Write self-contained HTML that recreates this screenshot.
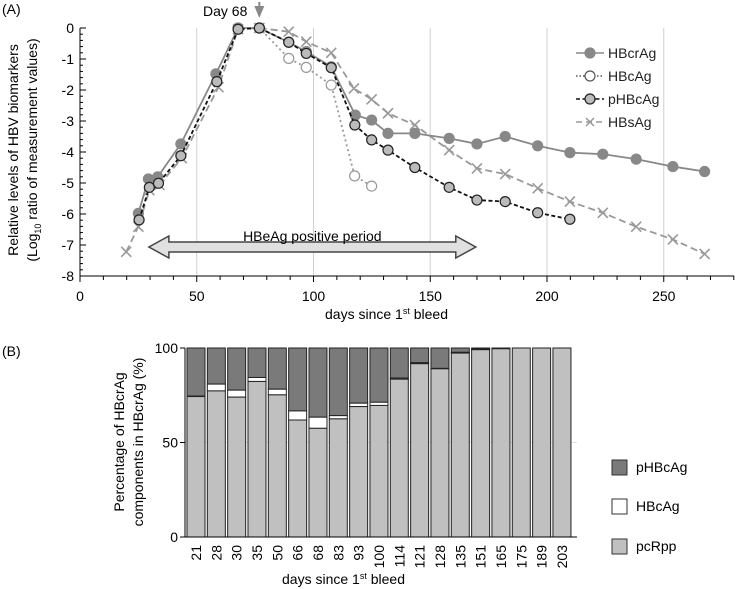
<!DOCTYPE html>
<html><head><meta charset="utf-8"><style>
html,body{margin:0;padding:0;background:#fff;}
svg{display:block;font-family:"Liberation Sans",Arial,sans-serif;}
</style></head><body>
<svg id="c" width="735" height="589" viewBox="0 0 735 589"></svg>
<script>
// ---------- Panel A data ----------
const crDays = [25,29.3,33.3,43.2,58.2,67.7,76.8,89.4,96.9,107.6,117.9,124.9,131.9,143.4,158.1,170,182.1,196,209.8,223.9,238.2,253.9,267.5];
const crVals = [-5.98,-4.87,-4.8,-3.74,-1.48,0,0,-0.46,-0.76,-1.25,-2.81,-2.97,-3.4,-3.4,-3.56,-3.74,-3.5,-3.8,-4.02,-4.07,-4.23,-4.47,-4.63];
const cDays = [67.7,76.8,89.4,96.9,107.6,117.6,124.9];
const cVals = [0,0,-0.98,-1.27,-1.84,-4.77,-5.1];
const pDays = [25.3,29.7,33.6,43.2,58.6,67.7,76.8,89.4,96.9,107.6,117.7,124.9,131.9,143.4,158.1,170,182.1,196,209.8];
const pVals = [-6.19,-5.14,-5.01,-4.12,-1.73,-0.04,0,-0.46,-0.82,-1.28,-3.13,-3.61,-3.94,-4.5,-5.14,-5.55,-5.6,-5.96,-6.17];
const sDays = [19.8,25,29.7,34,43.6,59.3,67.7,76.8,89.4,96.9,107.6,117.3,124.9,131.9,143.4,158.1,170,182.1,196,209.8,223.9,238.2,253.9,267.5];
const sVals = [-7.22,-6.41,-5.23,-5.06,-4.2,-1.91,-0.04,0,-0.12,-0.44,-0.8,-1.95,-2.3,-2.75,-3.13,-3.94,-4.53,-4.71,-5.17,-5.6,-5.96,-6.41,-6.82,-7.29];
const xTicksA = [0,50,100,150,200,250];
const yTicksA = [0,-1,-2,-3,-4,-5,-6,-7,-8];
// ---------- Panel B data ----------
const bCats = ["21","28","30","35","50","66","68","83","93","100","114","121","128","135","151","165","175","189","203"];
const bPc = [74.3,77.3,74,82.3,75.2,61.9,57.5,62.5,69,69.6,83.5,91.7,89,97.3,99.1,99.6,100,100,100];
const bHBc = [0.3,3.6,3.7,2.1,3,4.8,5.9,1.7,1.8,1.7,0.6,0.5,0.2,0.4,0.4,0.2,0,0,0];
const yTicksB = [0,50,100];

const svg = document.getElementById('c');
const NS = 'http://www.w3.org/2000/svg';
function el(tag, attrs, parent){const e=document.createElementNS(NS,tag);for(const k in attrs)e.setAttribute(k,attrs[k]);(parent||svg).appendChild(e);return e;}
function txt(s, attrs, parent){const e=el('text',attrs,parent);e.textContent=s;return e;}

const xA = d => 80 + d*2.335;
const yA = v => 28 - v*31;

let t;
t=txt('(A)',{x:2,y:14,'font-size':14});
t=txt('(B)',{x:2,y:356,'font-size':14});

xTicksA.forEach(d=>{ if(d>0){const g=el('line',{x1:xA(d),x2:xA(d),y1:yA(0),y2:yA(-8),stroke:'#d0d0d0','stroke-width':1});}});

let a=el('line',{x1:80,x2:80,y1:yA(0),y2:yA(-8),stroke:'#000','stroke-width':1});
a=el('line',{x1:80,x2:734,y1:yA(-8),y2:yA(-8),stroke:'#000','stroke-width':1});
for(let v=0;v>=-8;v-=0.2){const y=yA(v);const maj=Math.abs(v-Math.round(v))<1e-6;el('line',{x1:80,x2:maj?86:83,y1:y,y2:y,stroke:'#000','stroke-width':1});}
yTicksA.forEach(v=>{const e=txt(String(v),{x:74,y:yA(v)+5,'font-size':14,'text-anchor':'end'});});
for(let d=0;d<=280;d+=10){const x=xA(d);el('line',{x1:x,x2:x,y1:yA(-8),y2:yA(-8)+(d%50===0?6:4),stroke:'#000','stroke-width':1});}
xTicksA.forEach(d=>{const e=txt(String(d),{x:xA(d),y:301,'font-size':14,'text-anchor':'middle'});});
t=txt('days since 1',{x:325,y:319,'font-size':14});
const sup=el('tspan',{'font-size':9,dy:-5});sup.textContent='st';t.appendChild(sup);
const ts2=el('tspan',{dy:5});ts2.textContent=' bleed';t.appendChild(ts2);
t=txt('Relative levels of HBV biomarkers',{transform:'translate(18,150) rotate(-90)','font-size':14,'text-anchor':'middle'});
t=txt('(Log',{transform:'translate(37,150) rotate(-90)','font-size':14,'text-anchor':'middle'});
const s1=el('tspan',{'font-size':9,dy:4});s1.textContent='10';t.appendChild(s1);
const s2=el('tspan',{dy:-4});s2.textContent=' ratio of measurement values)';t.appendChild(s2);


const ax1=xA(29.5), ax2=xA(169.5), ay=247;
let arr=el('path',{d:`M${ax1},${ay} L${ax1+20},${ay-11} L${ax1+20},${ay-5} L${ax2-20},${ay-5} L${ax2-20},${ay-11} L${ax2},${ay} L${ax2-20},${ay+11} L${ax2-20},${ay+5} L${ax1+20},${ay+5} L${ax1+20},${ay+11} Z`,fill:'#e0e0e0',stroke:'#444','stroke-width':1.5});

t=txt('HBeAg positive period',{x:(ax1+ax2)/2,y:241,'font-size':14,'text-anchor':'middle'});

t=txt('Day 68',{x:203,y:16,'font-size':14});
let dm=el('path',{d:`M${xA(76.8)-5},6 L${xA(76.8)+5},6 L${xA(76.8)},18 Z M${xA(76.8)-1},2 L${xA(76.8)+1},2 L${xA(76.8)+1},8 L${xA(76.8)-1},8Z`,fill:'#888'});


function series(days, vals, name, stroke, dash, marker){
  const g=el('g',{});
  
  
  const pts=days.map((d,i)=>xA(d)+','+yA(vals[i])).join(' ');
  const l=el('polyline',{points:pts,fill:'none',stroke:stroke,'stroke-width':1.8,'stroke-dasharray':dash},g);
  
  
  days.forEach((d,i)=>{
    const x=xA(d),y=yA(vals[i]);let m;
    if(marker==='x'){m=el('path',{d:`M${x-5},${y-5}L${x+5},${y+5}M${x-5},${y+5}L${x+5},${y-5}`,stroke:'#999','stroke-width':1.6},g);}
    else m=el('circle',{cx:x,cy:y,r:5,fill:marker.fill,stroke:marker.stroke,'stroke-width':1.2},g);
    
    
  });
}
series(sDays,sVals,'hbsag','#999','7,4','x');
series(cDays,cVals,'hbcag','#999','2,3',{fill:'#fff',stroke:'#999'});
series(crDays,crVals,'hbcrag','#888','',{fill:'#888',stroke:'#888'});
series(pDays,pVals,'phbcag','#111','4,2.5',{fill:'#bbb',stroke:'#222'});

const legA=[['HBcrAg','#888','',{fill:'#888',stroke:'#888'}],['HBcAg','#555','1.5,2',{fill:'#fff',stroke:'#555'}],['pHBcAg','#111','4,2.5',{fill:'#bbb',stroke:'#222'}],['HBsAg','#999','6,4','x']];
legA.forEach((L,i)=>{
  const g=el('g',{});
  
  
  const y=53+i*23, x0=576, x1=604, xc=590;
  el('line',{x1:x0,x2:x1,y1:y,y2:y,stroke:L[1],'stroke-width':1.6,'stroke-dasharray':L[2]},g);
  if(L[3]==='x')el('path',{d:`M${xc-4},${y-4}L${xc+4},${y+4}M${xc-4},${y+4}L${xc+4},${y-4}`,stroke:'#999','stroke-width':1.5},g);
  else el('circle',{cx:xc,cy:y,r:5,fill:L[3].fill,stroke:L[3].stroke,'stroke-width':1.2},g);
  txt(L[0],{x:608,y:y+5,'font-size':14,fill:'#222'},g);
});

// ---------- Panel B ----------
const yB = p => 537 - p*1.89;
const xB = i => 187 + i*20.33;
const bw = 18;
yTicksB.forEach(p=>{ if(p===50){const g=el('line',{x1:185,x2:577,y1:yB(p),y2:yB(p),stroke:'#e4e4e4'});}});
bCats.forEach((c,i)=>{
  const g=el('g',{});
  
  
  const x=xB(i), pc=bPc[i], hb=bHBc[i], top=pc+hb;
  let r=el('rect',{x:x,y:yB(100),width:bw,height:yB(top)-yB(100),fill:'#7a7a7a',stroke:'#222','stroke-width':1},g);
  
  
  r=el('rect',{x:x,y:yB(top),width:bw,height:yB(pc)-yB(top),fill:'#fff',stroke:'#222','stroke-width':1},g);
  
  
  r=el('rect',{x:x,y:yB(pc),width:bw,height:yB(0)-yB(pc),fill:'#c0c0c0',stroke:'#222','stroke-width':1},g);
  
  
  const lt=txt(c,{transform:`translate(${x+bw/2+5},545) rotate(-90)`,'font-size':14,'text-anchor':'end'});
  
  
});
a=el('line',{x1:185,x2:185,y1:yB(100),y2:yB(0),stroke:'#000'});
a=el('line',{x1:185,x2:577,y1:yB(0),y2:yB(0),stroke:'#000'});
yTicksB.forEach(p=>{el('line',{x1:180,x2:185,y1:yB(p),y2:yB(p),stroke:'#000'});const e=txt(String(p),{x:178,y:yB(p)+5,'font-size':14,'text-anchor':'end'});});
t=txt('Percentage of HBcrAg',{transform:'translate(124,442) rotate(-90)','font-size':14,'text-anchor':'middle'});
t=txt('components in HBcrAg (%)',{transform:'translate(143,442) rotate(-90)','font-size':14,'text-anchor':'middle'});
t=txt('days since 1',{x:282,y:584,'font-size':14});
const sb=el('tspan',{'font-size':9,dy:-5});sb.textContent='st';t.appendChild(sb);
const sb2=el('tspan',{dy:5});sb2.textContent=' bleed';t.appendChild(sb2);

const legB=[['pHBcAg','#7a7a7a',467],['HBcAg','#fff',506],['pcRpp','#c0c0c0',546]];
legB.forEach(L=>{
  const g=el('g',{});
  
  
  el('rect',{x:612,y:L[2]-7,width:15,height:15,fill:L[1],stroke:'#333'},g);
  txt(L[0],{x:636,y:L[2]+5,'font-size':14},g);
});
</script>
</body></html>
